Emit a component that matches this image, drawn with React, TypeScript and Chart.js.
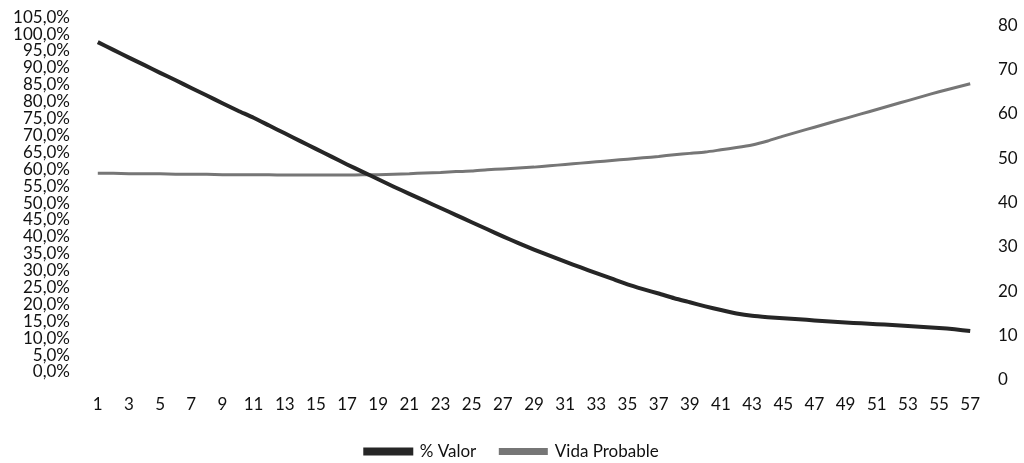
import React, { useEffect, useRef } from "react";
import { Chart, registerables } from "chart.js";

Chart.register(...registerables);

const categories: string[] = Array.from({ length: 57 }, (_, i) => String(i + 1));

const valorPct: number[] = [
  100.0, 97.7, 95.4, 93.2, 90.9, 88.7, 86.4, 84.2, 81.9, 79.7,
  77.6, 75.3, 73.0, 70.7, 68.4, 66.1, 63.8, 61.6, 59.4, 57.2,
  55.1, 53.0, 50.9, 48.8, 46.7, 44.6, 42.5, 40.5, 38.6, 36.8,
  35.0, 33.3, 31.6, 30.0, 28.3, 26.9, 25.6, 24.2, 23.0, 21.8,
  20.7, 19.7, 19.0, 18.6, 18.3, 18.0, 17.6, 17.3, 17.0, 16.8,
  16.5, 16.3, 16.0, 15.7, 15.4, 15.0, 14.5,
];

const vidaProbable: number[] = [
  46.6, 46.6, 46.5, 46.5, 46.5, 46.4, 46.4, 46.4, 46.3, 46.3,
  46.3, 46.3, 46.2, 46.2, 46.2, 46.2, 46.2, 46.3, 46.3, 46.4,
  46.5, 46.7, 46.8, 47.0, 47.1, 47.4, 47.6, 47.8, 48.0, 48.3,
  48.6, 48.9, 49.2, 49.5, 49.8, 50.1, 50.4, 50.8, 51.1, 51.4,
  51.9, 52.4, 53.0, 53.9, 55.0, 56.0, 57.0, 58.0, 59.0, 60.0,
  61.0, 62.0, 63.0, 64.0, 65.0, 65.9, 66.8,
];

const seriesNames: string[] = ["% Valor", "Vida Probable"];

const FONT = "Lato, 'Open Sans', sans-serif";

export default function App() {
  const ref = useRef<HTMLCanvasElement | null>(null);

  useEffect(() => {
    if (!ref.current) return;
    const chart = new Chart(ref.current, {
      type: "line",
      data: {
        labels: categories,
        datasets: [
          {
            label: seriesNames[0],
            data: valorPct,
            yAxisID: "y",
            borderColor: "#262626",
            backgroundColor: "#262626",
            borderWidth: 4,
            pointRadius: 0,
            tension: 0.2,
          },
          {
            label: seriesNames[1],
            data: vidaProbable,
            yAxisID: "y1",
            borderColor: "#767676",
            backgroundColor: "#767676",
            borderWidth: 3,
            pointRadius: 0,
            tension: 0.2,
          },
        ],
      },
      options: {
        responsive: false,
        animation: false,
        layout: { padding: { top: 0, left: 0, right: 0, bottom: 0 } },
        plugins: {
          tooltip: { enabled: false },
          legend: {
            position: "bottom",
            labels: {
              boxWidth: 46,
              boxHeight: 4,
              padding: 24,
              color: "#111",
              font: { family: FONT, size: 17 },
            },
          },
        },
        scales: {
          x: {
            offset: true,
            grid: { display: false, drawTicks: false },
            border: { display: false },
            afterFit: (s: any) => {
              s.height = 39;
            },
            ticks: {
              autoSkip: false,
              maxRotation: 0,
              padding: 14,
              color: "#111",
              font: { family: FONT, size: 17 },
              callback: (_v: any, i: number) => (i % 2 === 0 ? categories[i] : ""),
            },
          },
          y: {
            position: "left",
            min: 0,
            max: 105,
            grid: { display: false, drawTicks: false },
            border: { display: false },
            afterFit: (s: any) => {
              s.width = 90;
            },
            ticks: {
              stepSize: 5,
              autoSkip: false,
              padding: 20,
              labelOffset: -8,
              color: "#111",
              font: { family: FONT, size: 17 },
              callback: (v: any) => Number(v).toFixed(1).replace(".", ",") + "%",
            },
          },
          y1: {
            position: "right",
            min: 0,
            max: 80,
            grid: { display: false, drawTicks: false },
            border: { display: false },
            afterFit: (s: any) => {
              s.width = 46;
            },
            ticks: {
              stepSize: 10,
              autoSkip: false,
              padding: 20,
              color: "#111",
              font: { family: FONT, size: 17 },
            },
          },
        },
      },
    });
    return () => chart.destroy();
  }, []);

  return (
    <div
      style={{
        position: "absolute",
        left: 0,
        top: 0,
        width: 1024,
        height: 463,
        overflow: "hidden",
        background: "#fff",
      }}
    >
      <canvas
        ref={ref}
        width={1024}
        height={475}
        style={{ display: "block", position: "absolute", left: 0, top: -5 }}
      />
    </div>
  );
}
